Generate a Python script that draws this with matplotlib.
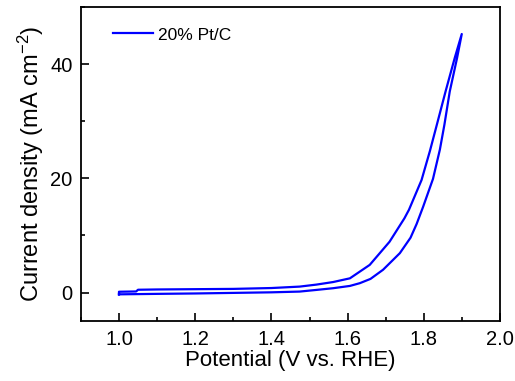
import matplotlib
matplotlib.use("Agg")
import matplotlib.pyplot as plt
from matplotlib.ticker import MultipleLocator

plt.rcParams['font.family'] = ['Liberation Sans', 'DejaVu Sans']
plt.rcParams['mathtext.fontset'] = 'custom'
plt.rcParams['mathtext.rm'] = 'Liberation Sans'
plt.rcParams['mathtext.it'] = 'Liberation Sans:italic'

# Barrido anódico (ida) y catódico (vuelta) del CV de 20% Pt/C
potencial_ida = [1.00, 1.10, 1.20, 1.30, 1.40, 1.474, 1.518, 1.562, 1.606, 1.632,
                 1.66, 1.693, 1.737, 1.765, 1.781, 1.798, 1.824, 1.842, 1.854,
                 1.868, 1.887, 1.8995]
corriente_ida = [-0.30, -0.22, -0.15, -0.05, 0.05, 0.18, 0.47, 0.77, 1.17, 1.65,
                 2.4, 4.0, 6.9, 9.6, 12.0, 15.0, 19.9, 25.0, 29.4,
                 35.2, 41.0, 45.25]

potencial_vuelta = [1.8995, 1.881, 1.857, 1.835, 1.816, 1.794, 1.761, 1.749, 1.710,
                    1.658, 1.606, 1.562, 1.518, 1.474, 1.40, 1.30, 1.20, 1.10,
                    1.05, 1.045, 1.00, 1.00]
corriente_vuelta = [45.25, 41.05, 35.2, 29.6, 24.8, 19.7, 14.5, 13.0, 8.9,
                    4.85, 2.5, 1.85, 1.4, 1.05, 0.8, 0.65, 0.6, 0.55,
                    0.5, 0.2, 0.15, -0.30]

fig = plt.figure(figsize=(5.15, 3.81), dpi=100)
ax = fig.add_axes([0.157, 0.157, 0.814, 0.825])

ax.plot(potencial_ida + potencial_vuelta, corriente_ida + corriente_vuelta,
        color="#0000ff", lw=1.6, label="20% Pt/C")

ax.set_xlim(0.9, 2.0)
ax.set_ylim(-5, 50)
ax.xaxis.set_major_locator(MultipleLocator(0.2))
ax.xaxis.set_minor_locator(MultipleLocator(0.1))
ax.yaxis.set_major_locator(MultipleLocator(20))
ax.yaxis.set_minor_locator(MultipleLocator(10))
ax.xaxis.set_major_formatter(plt.FormatStrFormatter("%.1f"))
ax.tick_params(which="both", direction="in", width=1.2, labelsize=14.5, pad=6)
ax.tick_params(which="major", length=6)
ax.tick_params(which="minor", length=3)
for sp in ax.spines.values():
    sp.set_linewidth(1.3)

ax.set_xlabel("Potential (V vs. RHE)", fontsize=16, labelpad=1)
ax.set_ylabel("Current density (mA cm$^{-2}$)", fontsize=17, labelpad=3)
ax.legend(loc="upper left", frameon=False, fontsize=12.5, handlelength=2.3,
          handletextpad=0.3, borderaxespad=0.6, bbox_to_anchor=(0.035, 0.99))

fig.savefig("out.png", dpi=100)
